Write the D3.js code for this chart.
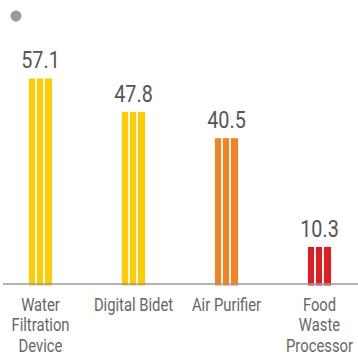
<!DOCTYPE html>
<html>
<head>
<meta charset="utf-8">
<script src="https://cdn.jsdelivr.net/npm/d3@7"></script>
<style>
  body { margin: 0; background: #fff; }
  svg text { font-family: "Roboto", sans-serif; }
</style>
</head>
<body>
<svg></svg>
<script>
const categories = ['Water Filtration Device', 'Digital Bidet', 'Air Purifier', 'Food Waste Processor'];
const labelLines = [['Water', 'Filtration', 'Device'], ['Digital Bidet'], ['Air Purifier'], ['Food', 'Waste', 'Processor']];
const values = [57.1, 47.8, 40.5, 10.3];
const colors = ['#ffcc00', '#ffcc00', '#f5821f', '#e31b23'];

const width = 358;
const height = 355;
const baseline = 284;
const barW = 23;
// no condensed face installed, so squeeze Roboto horizontally
const squeeze = 0.8;

const svg = d3.select('svg')
  .attr('width', width)
  .attr('height', height);

const x = d3.scalePoint()
  .domain(categories)
  .range([40.5, 319.5]);

const y = d3.scaleLinear()
  .domain([0, 60])
  .range([baseline, 68]);

// little grey dot top-left
svg.append('circle')
  .attr('cx', 16)
  .attr('cy', 16)
  .attr('r', 5.5)
  .attr('fill', '#9a9a9a');

const bar = svg.selectAll('.bar')
  .data(categories)
  .enter().append('g')
  .attr('class', 'bar')
  .attr('transform', d => `translate(${x(d) - barW / 2},0)`);

bar.append('rect')
  .attr('y', (d, i) => y(values[i]))
  .attr('width', barW)
  .attr('height', (d, i) => baseline + 1.5 - y(values[i]))
  .attr('fill', (d, i) => colors[i]);

// white gaps that split each bar into three stripes
[6, 14].forEach(off => {
  bar.append('rect')
    .attr('x', off)
    .attr('y', (d, i) => y(values[i]))
    .attr('width', 2)
    .attr('height', (d, i) => baseline + 1.5 - y(values[i]))
    .attr('fill', '#fff');
});

bar.append('text')
  .attr('transform', (d, i) => `translate(${barW / 2},${y(values[i]) - 10}) scale(0.84,1)`)
  .attr('text-anchor', 'middle')
  .attr('font-size', 23.5)
  .attr('fill', '#555')
  .text((d, i) => values[i]);

svg.append('line')
  .attr('x1', 3)
  .attr('x2', width)
  .attr('y1', baseline)
  .attr('y2', baseline)
  .attr('stroke', '#9a9a9a')
  .attr('stroke-width', 1.5);

const lab = svg.selectAll('.cat')
  .data(categories)
  .enter().append('g')
  .attr('class', 'cat')
  .attr('transform', d => `translate(${x(d)},0) scale(${squeeze},1)`);

lab.selectAll('text')
  .data((d, i) => labelLines[i])
  .enter().append('text')
  .attr('y', (d, j) => 311 + j * 20.5)
  .attr('text-anchor', 'middle')
  .attr('font-size', 18.5)
  .attr('fill', '#666')
  .text(d => d);
</script>
</body>
</html>
